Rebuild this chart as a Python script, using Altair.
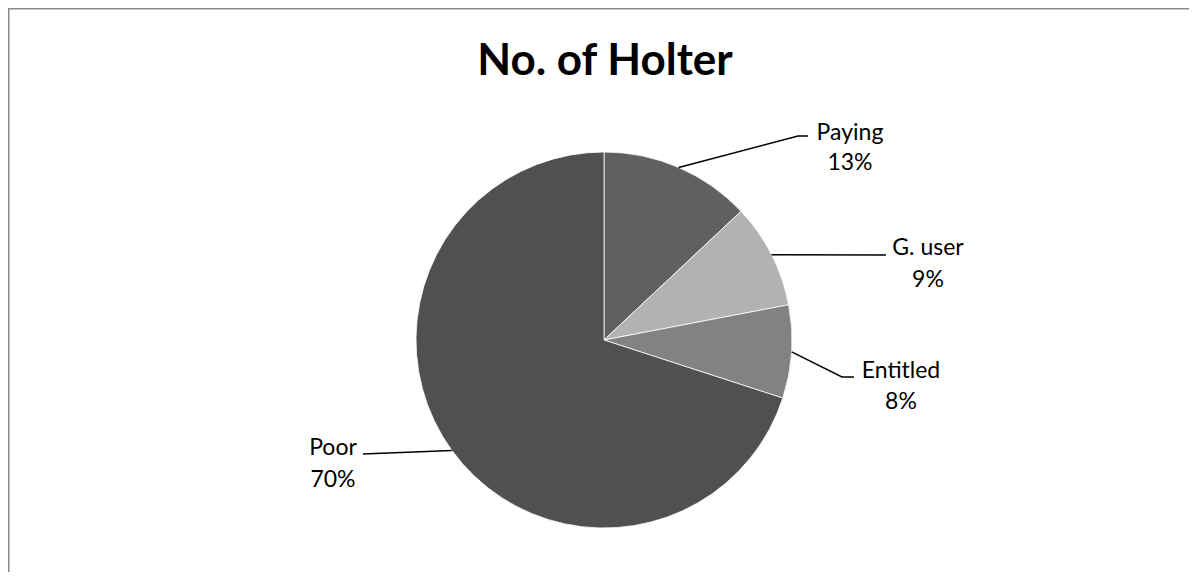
import math
import altair as alt
import pandas as pd

# ---- data ----
categories = ["Paying", "G. user", "Entitled", "Poor"]
percents = [13, 9, 8, 70]
colors = ["#606060", "#b2b2b2", "#828282", "#505050"]
title_text = "No. of Holter"

# ---- layout (chart pixel space, origin at top-left of chart) ----
W, H = 1181, 564
CX, CY, R = 596, 332, 188
FONT = "Lato"
# label layout: elbow point, leader end, label centre x, name baseline, pct baseline
label_layout = {
    "Paying":   dict(elbow=(790, 128), end=(800, 128), tx=842, ny=132, py=162),
    "G. user":  dict(elbow=(878, 247), end=(878, 247), tx=920, ny=247, py=279),
    "Entitled": dict(elbow=(834, 369), end=(846, 369), tx=893, ny=370, py=401),
    "Poor":     dict(elbow=(355, 446), end=(355, 446), tx=325, ny=447, py=479),
}

total = sum(percents)
pie = pd.DataFrame({"cat": categories, "val": percents, "idx": range(len(categories))})

# leader lines computed from slice mid-angles
rows = []
cum = 0
for c, v in zip(categories, percents):
    mid = (cum + v / 2) / total * 2 * math.pi
    cum += v
    ex, ey = CX + R * math.sin(mid), CY - R * math.cos(mid)
    lay = label_layout[c]
    pts = [(ex, ey), lay["elbow"], lay["end"]]
    for k, (x, y) in enumerate(pts):
        rows.append({"cat": c, "k": k, "x": x, "y": y})
leaders = pd.DataFrame(rows)

labels = pd.DataFrame(
    [{"x": label_layout[c]["tx"], "y": label_layout[c]["ny"], "t": c} for c in categories]
    + [{"x": label_layout[c]["tx"], "y": label_layout[c]["py"], "t": f"{p}%"} for c, p in zip(categories, percents)]
)

xs = alt.Scale(domain=[0, W], range=[0, W])
ys = alt.Scale(domain=[0, H], range=[0, H])

arcs = alt.Chart(pie).mark_arc(radius=R, stroke="#ffffff", strokeWidth=0.8).encode(
    theta=alt.Theta("val:Q", stack=True),
    order=alt.Order("idx:Q"),
    color=alt.Color("cat:N", scale=alt.Scale(domain=categories, range=colors), legend=None),
    x=alt.value(CX),
    y=alt.value(CY),
)

lines = alt.Chart(leaders).mark_line(color="#000000", strokeWidth=1.5).encode(
    x=alt.X("x:Q", scale=xs, axis=None),
    y=alt.Y("y:Q", scale=ys, axis=None),
    detail="cat:N",
    order="k:Q",
)

texts = alt.Chart(labels).mark_text(
    font=FONT, fontSize=23, color="#000000", align="center", baseline="alphabetic"
).encode(
    x=alt.X("x:Q", scale=xs, axis=None),
    y=alt.Y("y:Q", scale=ys, axis=None),
    text="t:N",
)

title = alt.Chart(pd.DataFrame({"t": [title_text]})).mark_text(
    font=FONT, fontSize=44, fontWeight="bold", color="#000000", align="center", baseline="alphabetic"
).encode(x=alt.value(597), y=alt.value(67), text="t:N")

border_top = alt.Chart(pd.DataFrame({"a": [0]})).mark_rule(color="#8a8a8a", strokeWidth=2).encode(
    x=alt.value(0), x2=alt.value(W + 8), y=alt.value(0.5)
)
border_left = alt.Chart(pd.DataFrame({"a": [0]})).mark_rule(color="#8a8a8a", strokeWidth=2).encode(
    x=alt.value(0.5), y=alt.value(0), y2=alt.value(H + 8)
)

chart = alt.layer(arcs, lines, texts, title, border_top, border_left).properties(
    width=W, height=H, padding=0, autosize=alt.AutoSizeParams(type="none")
).configure_view(strokeWidth=0).configure(background="#ffffff")

chart.save("out.html", embed_options={"renderer": "svg", "actions": False})
